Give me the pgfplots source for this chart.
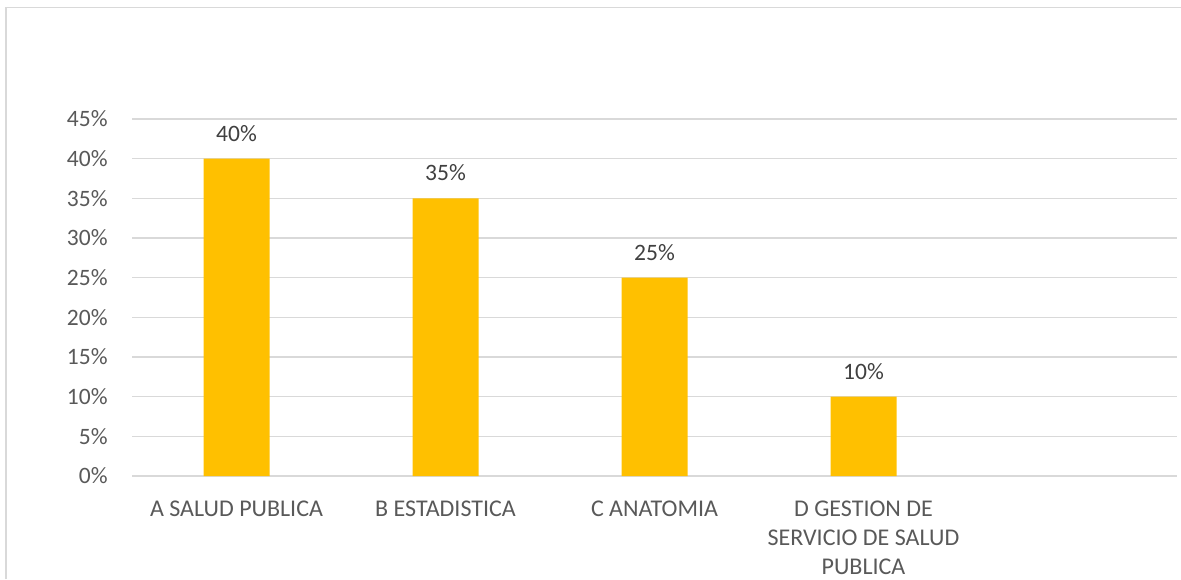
\documentclass[border=0pt]{standalone}
\usepackage{fontspec}
\setmainfont{Carlito}
\usepackage{pgfplots}
\pgfplotsset{compat=1.18}
\definecolor{barc}{HTML}{FFC000}
\definecolor{gridc}{HTML}{D9D9D9}
\definecolor{tickc}{HTML}{595959}
\definecolor{labc}{HTML}{404040}
\begin{document}
\begin{tikzpicture}
\useasboundingbox (-66pt,-51.5pt) rectangle (524.5pt,238pt);
\draw[gridc, line width=0.8pt] (-63pt,-51.5pt) -- (-63pt,234.25pt) -- (524.5pt,234.25pt);
\begin{axis}[
  at={(0pt,0pt)}, anchor=south west,
  scale only axis, width=522.5pt, height=178.5pt,
  xmin=-0.5, xmax=4.5, ymin=0, ymax=45,
  enlargelimits=false, clip=false,
  ytick={0,5,...,45},
  xtick={0,1,2,3},
  xticklabels={A SALUD PUBLICA, B ESTADISTICA, C ANATOMIA, {D GESTION DE\\SERVICIO DE SALUD\\PUBLICA}},
  yticklabel={\pgfmathprintnumber{\tick}\%},
  /pgf/number format/assume math mode=true,
  axis line style={draw=none},
  major tick length=0pt,
  ymajorgrids,
  grid style={gridc, line width=0.6pt},
  yticklabel style={font=\fontsize{11.75}{13}\selectfont, text=tickc, anchor=east, inner sep=0pt, xshift=-12pt},
  xticklabel style={font=\fontsize{12}{14.5}\selectfont, text=tickc, anchor=north, inner sep=0pt, yshift=-12.5pt, align=center},
  ybar, bar width=33pt, bar shift=0pt,
  nodes near coords={\pgfmathprintnumber{\pgfplotspointmeta}\%},
  nodes near coords style={font=\fontsize{11.75}{13}\selectfont, text=labc, anchor=south, inner sep=0pt, yshift=8.5pt},
]
\addplot[fill=barc, draw=none] coordinates {(0,40) (1,35) (2,25) (3,10)};
\end{axis}
\end{tikzpicture}
\end{document}
